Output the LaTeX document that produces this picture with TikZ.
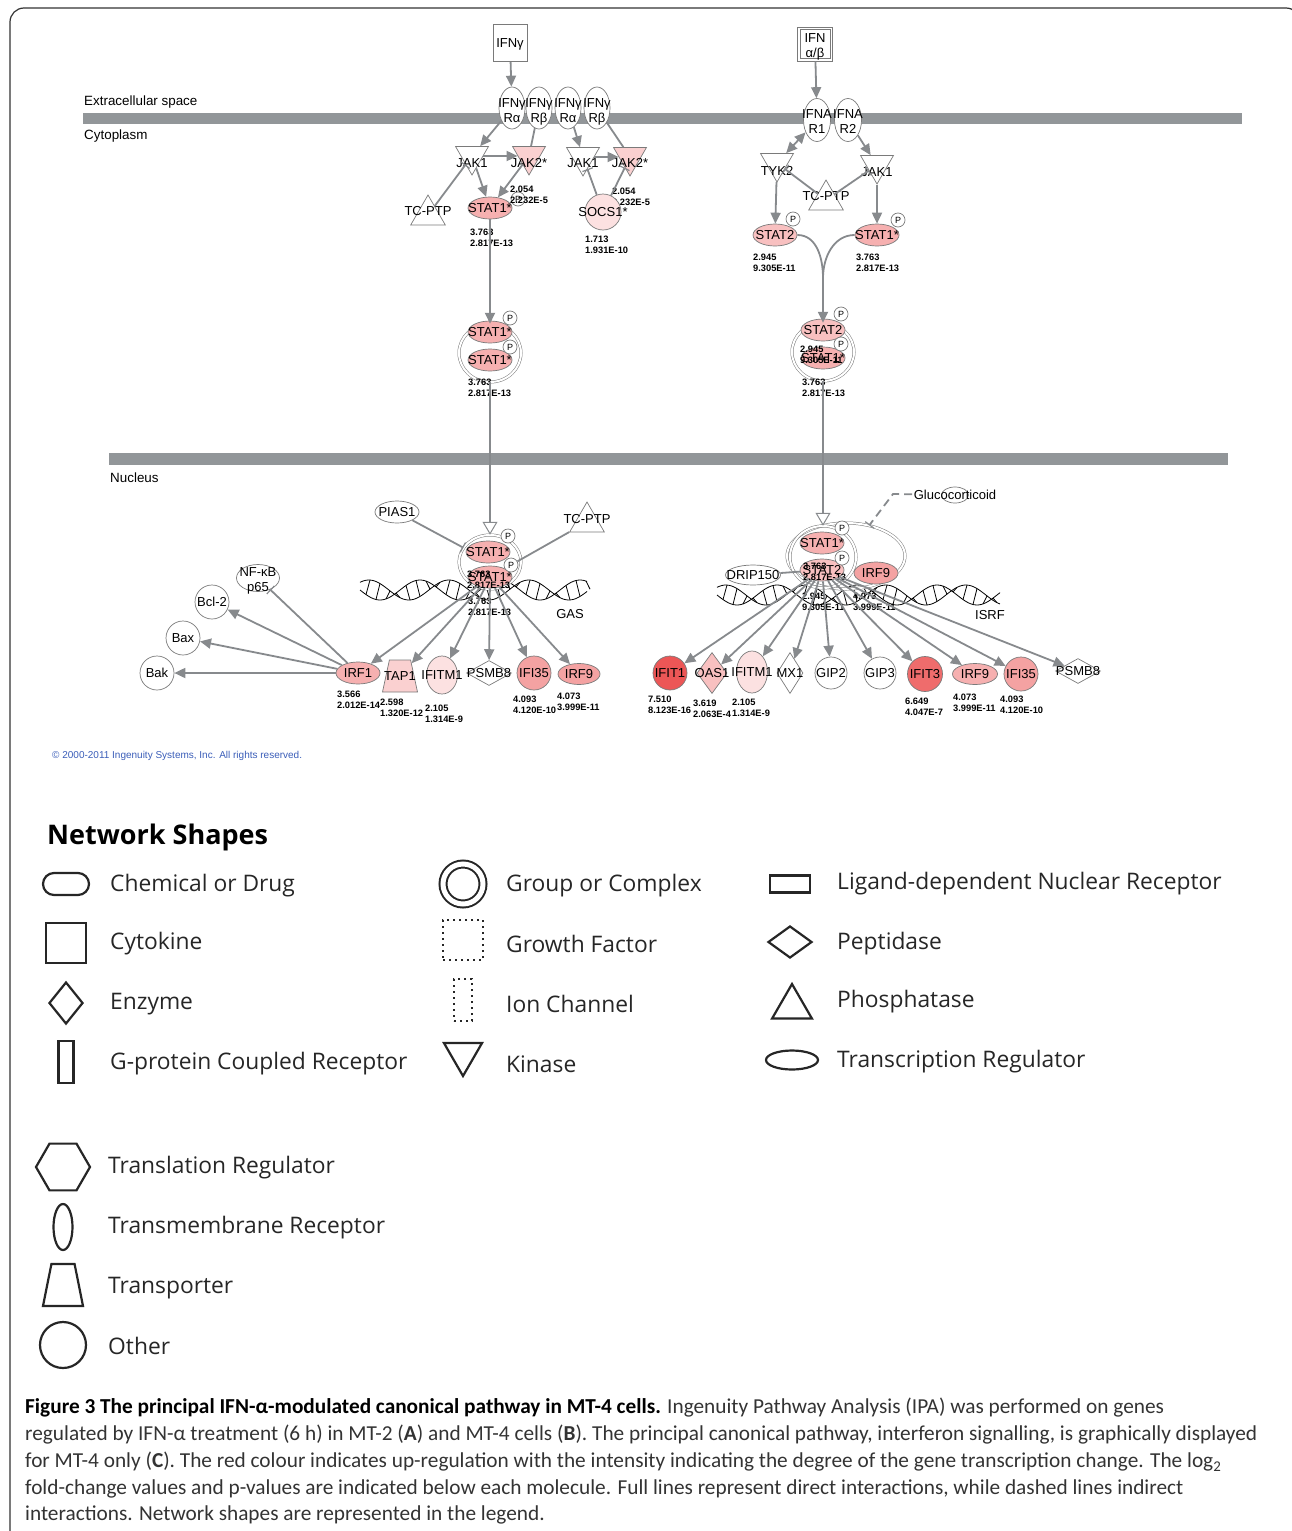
\documentclass[tikz,border=0pt]{standalone}
\usepackage{fontspec}
\setmainfont{Liberation Sans}
\newfontfamily\legfont{Open Sans}
\newfontfamily\capfont{Carlito}
\usetikzlibrary{arrows.meta,shapes.geometric,positioning}

\definecolor{membrane}{HTML}{929699}
\definecolor{edgegray}{HTML}{878A8D}
\definecolor{nodeline}{HTML}{7A7A7A}
\definecolor{upA}{HTML}{FCE1E1}
\definecolor{upB}{HTML}{FAD0D0}
\definecolor{upC}{HTML}{F8C0C0}
\definecolor{upD}{HTML}{F6B0B0}
\definecolor{upE}{HTML}{F4A2A2}
\definecolor{upF}{HTML}{EF6C6C}
\definecolor{upG}{HTML}{EC5656}
\definecolor{copyblue}{HTML}{3A5DB8}

% label that does not size its shape
\newcommand{\tx}[2][0pt]{\raisebox{\dimexpr-4.8pt+#1\relax}[0pt][0pt]{\makebox[0pt]{\begin{tabular}{@{}c@{}}#2\end{tabular}}}}

% double helix: x0, length, y, half period
\newcommand{\dnahelix}[4]{%
  \draw[helix] plot[domain=0:#2, samples=120, smooth] ({#1+\x},{#3+10*sin(\x/#4*180)});
  \draw[helix] plot[domain=0:#2, samples=120, smooth] ({#1+\x},{#3+10*sin(\x/#4*180-130)});
  \foreach \u in {6,16,...,#2} {
    \draw[helix] ({#1+\u},{#3+10*sin(\u/#4*180)}) -- ({#1+\u+4},{#3+10*sin((\u+4)/#4*180-130)});
  }}

\begin{document}
\begin{tikzpicture}[
        x=1pt, y=-1pt,
        font=\fontsize{13}{15}\selectfont,
        >={Triangle[length=11pt,width=10pt]},
        mol/.style={draw=nodeline, line width=0.7pt, inner sep=0pt, fill=white},
        cytokine/.style={mol, rectangle, minimum width=34, minimum height=37},
        receptor/.style={mol, ellipse, minimum width=26, minimum height=42},
        kinase/.style={mol, regular polygon, regular polygon sides=3, shape border rotate=180, minimum size=38},
        phosphatase/.style={mol, regular polygon, regular polygon sides=3, minimum size=40},
        treg/.style={mol, ellipse, minimum width=44, minimum height=22},
        other/.style={mol, circle, minimum size=34},
        enzyme/.style={mol, diamond, minimum width=30, minimum height=41},
        peptidase/.style={mol, diamond, minimum width=45, minimum height=25},
        transporter/.style={mol, trapezium, inner sep=1pt, trapezium stretches=true, trapezium left angle=72, trapezium right angle=72, minimum width=35, minimum height=32},
        chemical/.style={mol, ellipse, minimum width=27, minimum height=16},
        complex/.style={draw=nodeline, line width=0.5pt, double, double distance=2pt, ellipse, inner sep=0pt},
        pmark/.style={mol, circle, minimum size=14, font=\fontsize{9}{9}\selectfont},
        val/.style={inner sep=0pt, anchor=north west, align=left, font=\fontsize{9.3}{11}\bfseries\selectfont},
        note/.style={inner sep=0pt},
        link/.style={draw=edgegray, line width=1.8pt},
        act/.style={link, ->},
        inh/.style={link, -{Bar[width=11pt, line width=1.2pt]}},
        transloc/.style={link, -{Triangle[open, length=13pt, width=15pt, line width=1pt]}},
        helix/.style={draw=black, line width=0.8pt},
        legicon/.style={draw=black!85, line width=2.2pt, inner sep=0pt, fill=white},
        legdots/.style={dash pattern=on 2pt off 4pt},
        legtext/.style={anchor=west, inner sep=0pt, font=\legfont\fontsize{22.8}{26}\selectfont, text=black!85},
        captext/.style={anchor=west, inner sep=0pt, font=\capfont\fontsize{21.3}{24}\selectfont, text=black!80}
    ]
    \useasboundingbox (0,0) rectangle (1292,1531);

    % Frame and membranes
    \draw[line width=1.2pt, black!80, rounded corners=14pt] (10,1545) -- (10,8) -- (1300,8) -- (1300,1545);
    \fill[membrane] (83,113) rectangle (1242,124);
    \fill[membrane] (109,453) rectangle (1228,465);
    \node[note, anchor=west, font=\fontsize{13.4}{15}\selectfont] (extra) at (84,102) {Extracellular space};
    \node[note, anchor=west, font=\fontsize{13.4}{15}\selectfont] (cyto) at (84,136) {Cytoplasm};
    \node[note, anchor=west, font=\fontsize{13.4}{15}\selectfont] (nucl) at (110,478) {Nucleus};

    % DNA
    \dnahelix{360}{227}{590}{40}
    \dnahelix{717}{283}{595}{40}

    % Nodes: IFN-gamma
    \node[cytokine] (ifng) at (510,43) {\tx{IFNγ}};
    \node[receptor] (gra1) at (512,108) {\tx[-2pt]{IFNγ\\Rα}};
    \node[receptor] (grb1) at (539,108) {\tx[-2pt]{IFNγ\\Rβ}};
    \node[receptor] (gra2) at (568,108) {\tx[-2pt]{IFNγ\\Rα}};
    \node[receptor] (grb2) at (597,108) {\tx[-2pt]{IFNγ\\Rβ}};
    \node[kinase] (jak1a) at (472,156) {\tx[-7pt]{JAK1}};
    \node[kinase, fill=upB] (jak2a) at (529,156) {\tx[-7pt]{JAK2*}};
    \node[kinase] (jak1b) at (583,157) {\tx[-6pt]{JAK1}};
    \node[kinase, fill=upB] (jak2b) at (630,157) {\tx[-6pt]{JAK2*}};
    \node[phosphatase] (tcptp1) at (428,215) {\tx[4pt]{TC-PTP}};
    \node[treg, fill=upD] (stat1a) at (490,208) {\tx{STAT1*}};
    \node[pmark] (pa) at (518,199) {P};
    \node[val] (vjak2b) at (612,188) {2.054\\2.232E-5};
    \node[other, minimum size=36, fill=upA] (socs1) at (603,212) {\tx{SOCS1*}};

    % Nodes: IFN-alpha/beta
    \node[cytokine, minimum width=35, minimum height=34] (ifnab) at (815,44) {};
    \node[mol, rectangle, minimum width=30, minimum height=29] (ifnabin) at (815,44) {\tx[-1pt]{IFN\\α/β}};
    \node[receptor, minimum width=27, minimum height=43] (ifnar1) at (817,120) {\tx[-1pt]{IFNA\\R1}};
    \node[receptor, minimum width=27, minimum height=43] (ifnar2) at (848,120) {\tx[-1pt]{IFNA\\R2}};
    \node[kinase] (tyk2) at (777,163) {\tx[-8pt]{TYK2}};
    \node[kinase] (jak1c) at (877,165) {\tx[-7pt]{JAK1}};
    \node[phosphatase] (tcptp2) at (826,200) {\tx[4pt]{TC-PTP}};
    \node[treg, fill=upC] (stat2a) at (775,235) {\tx{STAT2}};
    \node[pmark] (pb1) at (793,219) {P};
    \node[treg, fill=upD] (stat1b) at (877,235) {\tx{STAT1*}};
    \node[pmark] (pb2) at (898,220) {P};
    \coordinate (merge) at (823,278);

    % Nodes: cytoplasmic complexes
    \node[complex, minimum width=62, minimum height=58] (cplx1) at (490,353) {};
    \node[treg, fill=upD] (c1s1) at (490,332) {\tx{STAT1*}};
    \node[treg, fill=upD] (c1s2) at (490,360) {\tx{STAT1*}};
    \node[pmark] (c1p1) at (510,318) {P};
    \node[pmark] (c1p2) at (510,347) {P};
    \node[complex, minimum width=62, minimum height=58] (cplx2) at (823,352) {};
    \node[treg, fill=upC] (c2s1) at (823,330) {\tx{STAT2}};
    \node[treg, fill=upD] (c2s2) at (823,358) {\tx{STAT1*}};
    \node[pmark] (c2p1) at (841,314) {P};
    \node[pmark] (c2p2) at (841,344) {P};

    % Nodes: nucleus, GAS
    \node[treg] (pias1) at (397,512) {\tx{PIAS1}};
    \node[complex, minimum width=62, minimum height=54] (ncx1) at (490,562) {};
    \node[treg, fill=upD] (ns1a) at (488,552) {\tx{STAT1*}};
    \node[treg, fill=upD] (ns1b) at (490,577) {\tx{STAT1*}};
    \node[pmark] (np1) at (508,536) {P};
    \node[pmark] (np2) at (511,565) {P};
    \node[phosphatase] (tcptp3) at (587,522) {\tx[3pt]{TC-PTP}};
    \node[note] (gas) at (570,614) {GAS};
    \node[treg, fill=upD] (irf1) at (358,673) {\tx{IRF1}};
    \node[transporter, fill=upB] (tap1) at (400,676) {\tx{TAP1}};
    \node[mol, ellipse, minimum width=31, minimum height=38, fill=upA] (ifitm1a) at (442,675) {\tx{IFITM1}};
    \node[peptidase] (psmb8a) at (489,673) {\tx{PSMB8}};
    \node[other, fill=upE] (ifi35a) at (534,673) {\tx{IFI35}};
    \node[treg, minimum width=42, minimum height=21, fill=upE] (irf9a) at (579,674) {\tx{IRF9}};
    \node[mol, ellipse, minimum width=43, minimum height=27] (nfkb) at (258,578) {\tx[-1pt]{NF-κB\\p65}};
    \node[other] (bcl2) at (212,602) {\tx{Bcl-2}};
    \node[other] (bax) at (183,638) {\tx{Bax}};
    \node[other] (bak) at (157,673) {\tx{Bak}};

    % Nodes: nucleus, ISRF
    \node[complex, minimum width=118, minimum height=66] (ncx2) at (846,556) {};
    \node[complex, minimum width=66, minimum height=62] (ncx2s) at (823,557) {};
    \node[treg, fill=upD] (ns1c) at (822,543) {\tx{STAT1*}};
    \node[treg, fill=upC] (ns2) at (822,570) {\tx{STAT2}};
    \node[treg, fill=upE] (nirf9) at (876,573) {\tx{IRF9}};
    \node[pmark] (np3) at (842,528) {P};
    \node[pmark] (np4) at (842,558) {P};
    \node[mol, ellipse, minimum width=55, minimum height=20] (drip150) at (753,575) {\tx{DRIP150}};
    \node[chemical] (gluco) at (955,495) {\tx{Glucocorticoid}};
    \coordinate (glbend) at (893,494);
    \node[note] (isrf) at (990,615) {ISRF};
    \node[other, fill=upG] (ifit1) at (670,673) {\tx{IFIT1}};
    \node[enzyme, fill=upC] (oas1) at (712,673) {\tx{OAS1}};
    \node[mol, ellipse, minimum width=31, minimum height=42, fill=upA] (ifitm1b) at (752,672) {\tx{IFITM1}};
    \node[enzyme, minimum width=26] (mx1) at (790,673) {\tx{MX1}};
    \node[other, minimum size=32] (gip2) at (831,673) {\tx{GIP2}};
    \node[other, minimum size=32] (gip3) at (880,673) {\tx{GIP3}};
    \node[other, minimum size=35, fill=upF] (ifit3) at (925,674) {\tx{IFIT3}};
    \node[treg, minimum width=45, minimum height=21, fill=upD] (irf9b) at (975,674) {\tx{IRF9}};
    \node[other, fill=upE] (ifi35b) at (1021,674) {\tx{IFI35}};
    \node[peptidase] (psmb8b) at (1078,671) {\tx{PSMB8}};

    % Values (log2 fold change, p-value)
    \node[val] (vstat1a) at (470,229) {3.763\\2.817E-13};
    \node[val] (vjak2a) at (510,186) {2.054\\2.232E-5};
    \node[val] (vsocs1) at (585,236) {1.713\\1.931E-10};
    \node[val] (vstat2a) at (753,254) {2.945\\9.305E-11};
    \node[val] (vstat1b) at (856,254) {3.763\\2.817E-13};
    \node[val] (vcplx1) at (468,379) {3.763\\2.817E-13};
    \node[val] (vcplx2a) at (800,346) {2.945\\9.305E-11};
    \node[val] (vcplx2b) at (802,379) {3.763\\2.817E-13};
    \node[val] (vncx1a) at (467,571) {3.763\\2.817E-13};
    \node[val] (vncx1b) at (468,598) {3.763\\2.817E-13};
    \node[val] (virf1) at (337,691) {3.566\\2.012E-14};
    \node[val] (vtap1) at (380,699) {2.598\\1.320E-12};
    \node[val] (vifitm1a) at (425,705) {2.105\\1.314E-9};
    \node[val] (vifi35a) at (513,696) {4.093\\4.120E-10};
    \node[val] (virf9a) at (557,693) {4.073\\3.999E-11};
    \node[val] (vncx2a) at (803,563) {3.763\\2.817E-13};
    \node[val] (vncx2b) at (802,593) {2.945\\9.305E-11};
    \node[val] (vnirf9) at (853,593) {4.073\\3.999E-11};
    \node[val] (vifit1) at (648,696) {7.510\\8.123E-16};
    \node[val] (voas1) at (693,700) {3.619\\2.063E-4};
    \node[val] (vifitm1b) at (732,699) {2.105\\1.314E-9};
    \node[val] (vifit3) at (905,698) {6.649\\4.047E-7};
    \node[val] (virf9b) at (953,694) {4.073\\3.999E-11};
    \node[val] (vifi35b) at (1000,696) {4.093\\4.120E-10};

    % Edges: cytoplasm
    \draw[act] (ifng) -- (gra1);
    \draw[act] (gra1) -- (jak1a);
    \draw[link] (grb1) -- (jak2a);
    \draw[act] (jak1a) -- (jak2a);
    \draw[act] (gra2) -- (jak1b);
    \draw[link] (grb2) -- (jak2b);
    \draw[act] (jak1b) -- (jak2b);
    \draw[act] (jak1a) -- (stat1a);
    \draw[act] (jak2a) -- (stat1a);
    \draw[inh] (tcptp1) -- (jak1a);
    \draw[inh] (socs1) -- (jak1b);
    \draw[inh] (socs1) -- (jak2b);
    \draw[act] (stat1a) -- (cplx1);
    \draw[act] (ifnab) -- (ifnar1);
    \draw[link, <->] (ifnar1) -- (tyk2);
    \draw[act] (ifnar2) -- (jak1c);
    \draw[inh] (tcptp2) -- (tyk2);
    \draw[inh] (tcptp2) -- (jak1c);
    \draw[act] (tyk2) -- (stat2a);
    \draw[act] (jak1c) -- (stat1b);
    \draw[link] (stat2a.east) to[out=0, in=90] (merge);
    \draw[link] (stat1b.west) to[out=180, in=90] (merge);
    \draw[act] (merge) -- (cplx2);
    \draw[transloc] (cplx1) -- (ncx1);
    \draw[transloc] (cplx2) -- (ncx2s);

    % Edges: nucleus
    \draw[inh] (pias1) -- (ncx1);
    \draw[link] (tcptp3) -- (np2);
    \foreach \t in {irf1, tap1, ifitm1a, psmb8a, ifi35a, irf9a}
        \draw[act] (ns1b) -- (\t);
    \foreach \t in {bcl2, bax, bak}
        \draw[act] (irf1) -- (\t);
    \draw[inh] (irf1) -- (nfkb);
    \draw[link] (drip150) -- (ns2);
    \draw[inh, dash pattern=on 8pt off 5pt, shorten <=43pt] (gluco.center) -- (glbend) -- (ncx2);
    \foreach \t in {ifit1, oas1, ifitm1b, mx1, gip2, gip3, ifit3, irf9b, ifi35b, psmb8b}
        \draw[act] (ns2) -- (\t);

    \node[note, anchor=west, text=copyblue, font=\fontsize{10}{12}\selectfont] (copyr) at (52,756) {© 2000-2011 Ingenuity Systems, Inc. All rights reserved.};

    % Legend
    \node[note, anchor=west, font=\legfont\bfseries\fontsize{27}{30}\selectfont] (legtitle) at (47,837) {Network Shapes};
    \node[legicon, rectangle, rounded corners=11pt, minimum width=46, minimum height=22] (lgchem) at (66,884) {};
    \node[legtext] (lgchemt) at (110,886) {Chemical or Drug};
    \node[legicon, rectangle, minimum width=40, minimum height=40] (lgcyto) at (66,943) {};
    \node[legtext] (lgcytot) at (110,944) {Cytokine};
    \node[legicon, diamond, minimum width=34, minimum height=42] (lgenz) at (66,1003) {};
    \node[legtext] (lgenzt) at (110,1004) {Enzyme};
    \node[legicon, rectangle, minimum width=15, minimum height=42] (lggpcr) at (66,1062) {};
    \node[legtext] (lggpcrt) at (110,1064) {G-protein Coupled Receptor};
    \node[legicon, circle, minimum size=40, double, double distance=5pt, line width=2pt] (lggroup) at (463,884) {};
    \node[legtext] (lggroupt) at (506,886) {Group or Complex};
    \node[legicon, legdots, rectangle, minimum width=40, minimum height=40] (lggrowth) at (463,940) {};
    \node[legtext] (lggrowtht) at (506,944) {Growth Factor};
    \node[legicon, legdots, rectangle, minimum width=18, minimum height=42] (lgion) at (463,1000) {};
    \node[legtext] (lgiont) at (506,1004) {Ion Channel};
    \node[legicon, regular polygon, regular polygon sides=3, shape border rotate=180, minimum size=44] (lgkin) at (463,1054) {};
    \node[legtext] (lgkint) at (506,1064) {Kinase};
    \node[legicon, rectangle, minimum width=40, minimum height=17] (lglig) at (790,884) {};
    \node[legtext] (lgligt) at (837,884) {Ligand-dependent Nuclear Receptor};
    \node[legicon, diamond, minimum width=44, minimum height=32] (lgpep) at (790,942) {};
    \node[legtext] (lgpept) at (837,944) {Peptidase};
    \node[legicon, regular polygon, regular polygon sides=3, minimum size=46] (lgphos) at (792,1007) {};
    \node[legtext] (lgphost) at (837,1002) {Phosphatase};
    \node[legicon, ellipse, minimum width=52, minimum height=19] (lgtreg) at (792,1060) {};
    \node[legtext] (lgtregt) at (837,1062) {Transcription Regulator};
    \node[legicon, regular polygon, regular polygon sides=6, minimum size=54] (lgtransl) at (63,1167) {};
    \node[legtext] (lgtranslt) at (108,1168) {Translation Regulator};
    \node[legicon, ellipse, minimum width=19, minimum height=46] (lgtm) at (63,1227) {};
    \node[legtext] (lgtmt) at (108,1228) {Transmembrane Receptor};
    \node[legicon, trapezium, inner sep=1pt, trapezium stretches=true, trapezium left angle=70, trapezium right angle=70, minimum width=40, minimum height=42] (lgport) at (63,1285) {};
    \node[legtext] (lgportt) at (108,1288) {Transporter};
    \node[legicon, circle, minimum size=46] (lgother) at (63,1345) {};
    \node[legtext] (lgothert) at (108,1346) {Other};

    % Caption
    \node[captext] (cap1) at (25,1408) {\textbf{\color{black}Figure 3 The principal IFN-α-modulated canonical pathway in MT-4 cells.} Ingenuity Pathway Analysis (IPA) was performed on genes};
    \node[captext] (cap2) at (25,1435) {regulated by IFN-α treatment (6 h) in MT-2 (\textbf{A}) and MT-4 cells (\textbf{B}). The principal canonical pathway, interferon signalling, is graphically displayed};
    \node[captext] (cap3) at (25,1462) {for MT-4 only (\textbf{C}). The red colour indicates up-regulation with the intensity indicating the degree of the gene transcription change. The log\textsubscript{2}};
    \node[captext] (cap4) at (25,1489) {fold-change values and p-values are indicated below each molecule. Full lines represent direct interactions, while dashed lines indirect};
    \node[captext] (cap5) at (25,1515) {interactions. Network shapes are represented in the legend.};
\end{tikzpicture}
\end{document}
